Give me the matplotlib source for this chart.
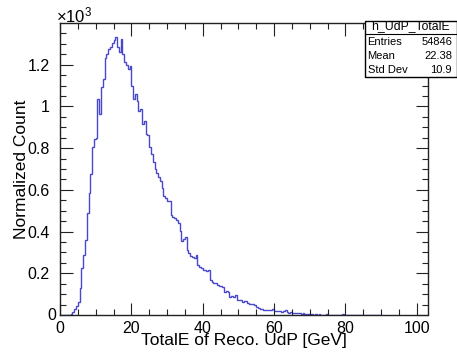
import numpy as np
import matplotlib
matplotlib.use("Agg")
import matplotlib.pyplot as plt
from matplotlib.ticker import MultipleLocator, FuncFormatter
from matplotlib.patches import Rectangle
from matplotlib.lines import Line2D

plt.rcParams['font.family'] = ['Liberation Sans', 'DejaVu Sans']
plt.rcParams['mathtext.fontset'] = 'custom'
plt.rcParams['mathtext.rm'] = 'Liberation Sans'
plt.rcParams['mathtext.it'] = 'Liberation Sans'

# histogram definition
x_lo, x_hi = 0.0, 103.0
bin_width = 0.5
counts = [
    0, 0, 0, 0, 0, 2, 7, 16, 29, 45,
    61, 130, 227, 289, 361, 490, 587, 675, 803, 843,
    848, 1036, 964, 1095, 1133, 1232, 1253, 1277, 1285, 1306,
    1317, 1333, 1285, 1261, 1322, 1253, 1213, 1197, 1181, 1194,
    1097, 1036, 1060, 1028, 980, 988, 916, 931, 867, 863,
    803, 771, 735, 702, 680, 660, 642, 610, 569, 560,
    545, 548, 477, 470, 463, 455, 443, 401, 353, 365,
    374, 313, 297, 285, 278, 273, 289, 241, 232, 225,
    217, 215, 213, 217, 169, 156, 155, 153, 145, 140,
    138, 136, 112, 115, 112, 88, 90, 88, 96, 72,
    74, 72, 64, 66, 69, 59, 55, 53, 53, 50,
    40, 32, 30, 27, 26, 25, 24, 22, 26, 27,
    19, 20, 19, 17, 15, 20, 24, 16, 11, 12,
    11, 10, 9, 8, 8, 7, 8, 6, 5, 4,
    3, 4, 2, 3, 2, 3, 2, 1, 2, 3,
    1, 2, 1, 2, 1, 1, 2, 1, 3, 1,
    0, 1, 0, 1, 0, 0, 1, 0, 0, 0,
    1, 0, 0, 0, 0, 0, 0, 0, 0, 0,
]

hist_name = "h_UdP_TotalE"
stat_labels = ["Entries", "Mean", "Std Dev"]
stat_values = ["54846", "22.38", "10.9"]
x_title = "TotalE of Reco. UdP [GeV]"
y_title = "Normalized Count"
y_exponent = 3

W, H = 457, 360
fig = plt.figure(figsize=(W / 100, H / 100), dpi=100)


def fx(x):
    return x / W


def fy(y):
    return 1 - y / H


# frame in pixel coordinates
L, T, R, B = 60, 23, 427.5, 315
ax = fig.add_axes([fx(L), fy(B), (R - L) / W, (B - T) / H])

edges = x_lo + bin_width * np.arange(len(counts) + 1)
ax.stairs(counts, edges, color='#4848cc', lw=1.0)

ax.set_xlim(x_lo, x_hi)
ax.set_ylim(0, 1.05 * max(counts))

scale = 10 ** y_exponent
ax.xaxis.set_major_locator(MultipleLocator(20))
ax.xaxis.set_minor_locator(MultipleLocator(5))
ax.yaxis.set_major_locator(MultipleLocator(200))
ax.yaxis.set_minor_locator(MultipleLocator(50))
ax.xaxis.set_major_formatter(FuncFormatter(lambda v, p: f"{v:g}"))
# the zero of the y axis is written separately, next to the corner
ax.yaxis.set_major_formatter(
    FuncFormatter(lambda v, p: "" if v == 0 else f"{v / scale:g}"))

ax.tick_params(which='both', direction='in', top=True, right=True,
               width=0.8, colors='#222222', labelcolor='black', labelsize=11.5)
ax.tick_params(which='major', length=9)
ax.tick_params(which='minor', length=4.5)
ax.tick_params(axis='x', pad=4.5)
ax.tick_params(axis='y', pad=7.5)
for s in ax.spines.values():
    s.set_linewidth(1.0)
    s.set_color('#222222')

ax.annotate("0", xy=(0, 0), xycoords=('axes fraction', 'data'),
            xytext=(-2.5, 0), textcoords='offset points',
            ha='right', va='center', fontsize=11.5)

ax.set_xlabel(x_title, fontsize=12.5)
ax.xaxis.set_label_coords(0.5, -(344.5 - B) / (B - T))
ax.xaxis.label.set_va('baseline')
ax.set_ylabel(y_title, fontsize=12.5)
ax.yaxis.set_label_coords(-(L - 21.5) / (R - L), 0.5)
ax.yaxis.label.set_va('center')

fig.text(fx(56), fy(22), r'$\times$10$^{%d}$' % y_exponent, fontsize=12,
         ha='left', va='baseline')

# statistics box
bx0, by0, bx1, by1 = 365, 20.7, 456.5, 77
fig.patches.append(Rectangle((fx(bx0), fy(by1)), (bx1 - bx0) / W, (by1 - by0) / H,
                             transform=fig.transFigure, facecolor='white',
                             edgecolor='black', lw=1.0, zorder=5))
fig.lines.append(Line2D([fx(bx0), fx(bx1)], [fy(33.5), fy(33.5)],
                        transform=fig.transFigure, color='black', lw=0.8, zorder=6))
fig.text(fx((bx0 + bx1) / 2), fy(29.3), hist_name, fontsize=8.8, ha='center',
         va='baseline', zorder=7)
for i, (lab, val) in enumerate(zip(stat_labels, stat_values)):
    yy = 42 + i * 14.2
    fig.text(fx(367.5), fy(yy), lab, fontsize=8, ha='left', va='center', zorder=7)
    fig.text(fx(452), fy(yy), val, fontsize=8, ha='right', va='center', zorder=7)

fig.savefig("out.png", dpi=100)
